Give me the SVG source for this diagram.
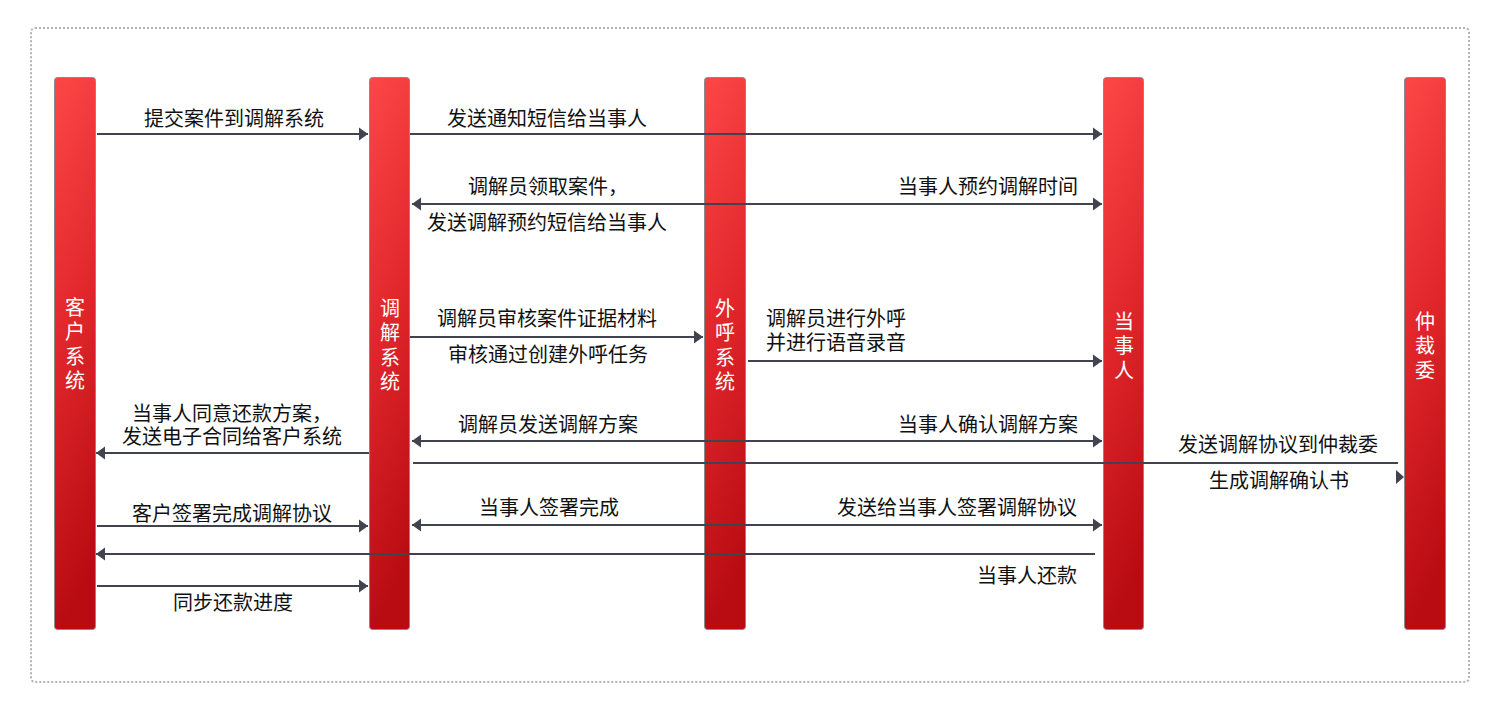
<svg xmlns="http://www.w3.org/2000/svg" width="1500" height="714" viewBox="0 0 1500 714">
<style>
.lbl{font-family:"Noto Sans CJK SC","Noto Sans",sans-serif;font-size:20px;fill:#111;}
.bar{fill:url(#barg);stroke:#8a8a8a;stroke-width:1;}
.bt{font-family:"Noto Sans CJK SC","Noto Sans",sans-serif;font-size:20px;fill:#fff;writing-mode:vertical-rl;letter-spacing:4.5px;}
.ln{stroke:#41434f;stroke-width:2;fill:none;}
.ar{marker-end:url(#ah);}
.bi{marker-start:url(#ah);marker-end:url(#ah);}
.m{text-anchor:middle;}
.e{text-anchor:end;}
</style>
<defs>
<linearGradient id="barg" x1="0" y1="0" x2="0.15" y2="1">
<stop offset="0" stop-color="#fd4747"/>
<stop offset="0.5" stop-color="#e0262b"/>
<stop offset="1" stop-color="#b80c12"/>
</linearGradient>
<marker id="ah" markerUnits="userSpaceOnUse" markerWidth="10" markerHeight="14" refX="9" refY="7" orient="auto-start-reverse">
<path d="M0,0.5 L9,7 L0,13.5 z" fill="#41434f"/>
</marker>
</defs>
<rect x="31" y="28" width="1438" height="654" rx="4" fill="none" stroke="#b3b3b3" stroke-width="2" stroke-dasharray="2 2"/>

<g id="n-client">
<rect class="bar" x="54.500" y="77.500" width="41" height="552" rx="3"/>
<text class="bt" x="75" y="297">客户系统</text>
</g>
<g id="n-mediation">
<rect class="bar" x="369.500" y="77.500" width="40" height="552" rx="3"/>
<text class="bt" x="390" y="298">调解系统</text>
</g>
<g id="n-outbound">
<rect class="bar" x="704.500" y="77.500" width="41" height="552" rx="3"/>
<text class="bt" x="725" y="298">外呼系统</text>
</g>
<g id="n-party">
<rect class="bar" x="1103.500" y="77.500" width="40" height="552" rx="3"/>
<text class="bt" x="1124" y="311">当事人</text>
</g>
<g id="n-arbitration">
<rect class="bar" x="1404.500" y="77.500" width="41" height="552" rx="3"/>
<text class="bt" x="1425" y="311">仲裁委</text>
</g>

<g id="connectors">
<line class="ln ar" x1="97" y1="134" x2="368" y2="134"/>
<line class="ln ar" x1="410" y1="134" x2="1102" y2="134"/>
<line class="ln bi" x1="412" y1="204" x2="1102" y2="204"/>
<line class="ln ar" x1="410" y1="337" x2="703" y2="337"/>
<line class="ln ar" x1="748" y1="361" x2="1102" y2="361"/>
<line class="ln bi" x1="412" y1="441" x2="1102" y2="441"/>
<line class="ln ar" x1="369" y1="453" x2="96" y2="453"/>
<line class="ln" x1="413" y1="463" x2="1398" y2="463"/>
<path d="M1396,470 L1404,477 L1396,484 z" fill="#41434f"/>
<line class="ln ar" x1="97" y1="526" x2="368" y2="526"/>
<line class="ln bi" x1="412" y1="525" x2="1102" y2="525"/>
<line class="ln ar" x1="1095" y1="554" x2="96" y2="554"/>
<line class="ln ar" x1="97" y1="586" x2="368" y2="586"/>
</g>

<g id="labels">
<text class="lbl m" x="234" y="126">提交案件到调解系统</text>
<text class="lbl" x="447" y="126">发送通知短信给当事人</text>
<text class="lbl" x="468" y="194">调解员领取案件，</text>
<text class="lbl" x="427" y="230">发送调解预约短信给当事人</text>
<text class="lbl e" x="1078" y="194">当事人预约调解时间</text>
<text class="lbl" x="437" y="326">调解员审核案件证据材料</text>
<text class="lbl" x="448" y="362">审核通过创建外呼任务</text>
<text class="lbl" x="766"><tspan x="766" y="326">调解员进行外呼</tspan><tspan x="766" y="350">并进行语音录音</tspan></text>
<text class="lbl" x="458" y="432">调解员发送调解方案</text>
<text class="lbl e" x="1078" y="432">当事人确认调解方案</text>
<text class="lbl"><tspan x="132" y="421">当事人同意还款方案，</tspan><tspan x="122" y="444">发送电子合同给客户系统</tspan></text>
<text class="lbl m" x="1278" y="452">发送调解协议到仲裁委</text>
<text class="lbl m" x="1279" y="488">生成调解确认书</text>
<text class="lbl" x="132" y="521">客户签署完成调解协议</text>
<text class="lbl" x="479" y="515">当事人签署完成</text>
<text class="lbl e" x="1077" y="515">发送给当事人签署调解协议</text>
<text class="lbl e" x="1077" y="583">当事人还款</text>
<text class="lbl" x="173" y="610">同步还款进度</text>
</g>
</svg>
